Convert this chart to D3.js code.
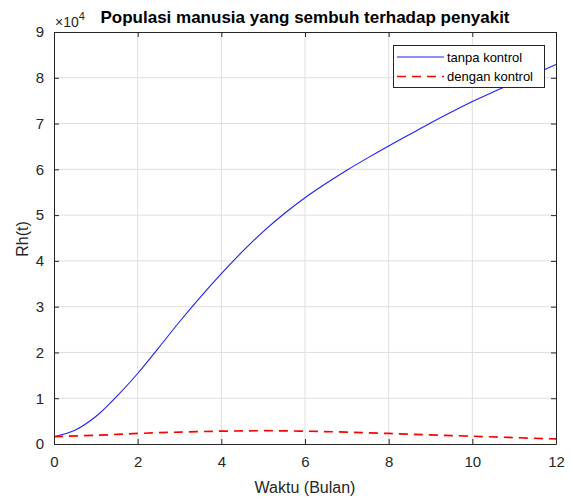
<!DOCTYPE html>
<html>
<head>
<meta charset="utf-8">
<script src="https://cdn.jsdelivr.net/npm/d3@7"></script>
<style>
  body { margin: 0; background: #fff; }
  svg text { font-family: "Liberation Sans", Arial, sans-serif; }
</style>
</head>
<body>
<div class="container"></div>
<script>
// waktu (bulan)
const timeBlue = [0, 0.5, 1, 1.5, 2, 2.5, 3, 3.5, 4, 4.5, 5, 5.5, 6, 6.5, 7, 7.5, 8, 8.5, 9, 9.5, 10, 10.5, 11, 11.5, 12];
// Rh(t) tanpa kontrol, x 10^4
const tanpaKontrol = [0.16, 0.3, 0.6, 1.04, 1.54, 2.1, 2.67, 3.21, 3.72, 4.2, 4.64, 5.03, 5.38, 5.69, 5.98, 6.25, 6.51, 6.76, 7.01, 7.25, 7.48, 7.69, 7.89, 8.09, 8.29];
const timeRed = [0, 1, 2, 3, 4, 5, 6, 7, 8, 9, 10, 11, 12];
// Rh(t) dengan kontrol, x 10^4
const denganKontrol = [0.16, 0.19, 0.23, 0.26, 0.28, 0.29, 0.28, 0.26, 0.23, 0.2, 0.17, 0.14, 0.11];
const xTicks = [0, 2, 4, 6, 8, 10, 12];
const yTicks = [0, 1, 2, 3, 4, 5, 6, 7, 8, 9];
const legendLabels = ["tanpa kontrol", "dengan kontrol"];

const w = 573;
const h = 497;
const pLeft = 54, pRight = 556, pTop = 32, pBottom = 444;
const axisColor = "#262626";

const svg = d3.select(".container")
  .append("svg")
  .attr("width", w)
  .attr("height", h);

const xScale = d3.scaleLinear().domain([0, 12]).range([pLeft, pRight]);
const yScale = d3.scaleLinear().domain([0, 9]).range([pBottom, pTop]);

// grid
svg.append("g")
  .selectAll("line")
  .data(xTicks.slice(1, -1))
  .enter()
  .append("line")
  .attr("x1", d => xScale(d)).attr("x2", d => xScale(d))
  .attr("y1", pTop).attr("y2", pBottom)
  .attr("stroke", "#dfdfdf").attr("stroke-width", 1);
svg.append("g")
  .selectAll("line")
  .data(yTicks.slice(1, -1))
  .enter()
  .append("line")
  .attr("y1", d => yScale(d)).attr("y2", d => yScale(d))
  .attr("x1", pLeft).attr("x2", pRight)
  .attr("stroke", "#dfdfdf").attr("stroke-width", 1);

// lines
const line = d3.line().curve(d3.curveCatmullRom);
svg.append("path")
  .attr("d", line(timeBlue.map((t, i) => [xScale(t), yScale(tanpaKontrol[i])])))
  .attr("fill", "none")
  .attr("stroke", "#1f1fff")
  .attr("stroke-width", 1.1);
svg.append("path")
  .attr("d", line(timeRed.map((t, i) => [xScale(t), yScale(denganKontrol[i])])))
  .attr("fill", "none")
  .attr("stroke", "#ff0000")
  .attr("stroke-width", 1.7)
  .attr("stroke-dasharray", "9,6");

// axes (box with inward ticks)
const xAxis = d3.axisBottom(xScale).tickValues(xTicks).tickSizeInner(-5).tickSizeOuter(0).tickPadding(12);
const yAxis = d3.axisLeft(yScale).tickValues(yTicks).tickSizeInner(-5).tickSizeOuter(0).tickPadding(10);
const xTop = d3.axisTop(xScale).tickValues(xTicks).tickSizeInner(-5).tickSizeOuter(0).tickFormat("");
const yRight = d3.axisRight(yScale).tickValues(yTicks).tickSizeInner(-5).tickSizeOuter(0).tickFormat("");

svg.append("g").attr("transform", `translate(0,${pBottom})`).call(xAxis);
svg.append("g").attr("transform", `translate(${pLeft},0)`).call(yAxis);
svg.append("g").attr("transform", `translate(0,${pTop})`).call(xTop);
svg.append("g").attr("transform", `translate(${pRight},0)`).call(yRight);

svg.selectAll(".domain").attr("stroke", axisColor);
svg.selectAll(".tick line").attr("stroke", axisColor);
svg.selectAll(".tick text")
  .attr("fill", axisColor)
  .style("font-size", "15px")
  .style("font-family", "Liberation Sans, Arial, sans-serif");

// exponent
const expo = svg.append("text")
  .attr("x", pLeft + 1)
  .attr("y", 27)
  .attr("fill", axisColor)
  .style("font-size", "14px");
expo.append("tspan").text("\u00d710");
expo.append("tspan").attr("dy", -7).style("font-size", "11px").text("4");

// title
svg.append("text")
  .attr("x", (pLeft + pRight) / 2)
  .attr("y", 23)
  .attr("text-anchor", "middle")
  .attr("font-weight", "bold")
  .style("font-size", "17px")
  .attr("fill", "#000")
  .text("Populasi manusia yang sembuh terhadap penyakit");

// axis labels
svg.append("text")
  .attr("x", (pLeft + pRight) / 2)
  .attr("y", 493)
  .attr("text-anchor", "middle")
  .attr("fill", axisColor)
  .style("font-size", "16px")
  .text("Waktu (Bulan)");
svg.append("text")
  .attr("transform", `translate(28,${(pTop + pBottom) / 2 + 1}) rotate(-90)`)
  .attr("text-anchor", "middle")
  .attr("fill", axisColor)
  .style("font-size", "16px")
  .text("Rh(t)");

// legend
const legend = svg.append("g");
legend.append("rect")
  .attr("x", 393.5).attr("y", 45.5)
  .attr("width", 151).attr("height", 42)
  .attr("fill", "#fff")
  .attr("stroke", axisColor);
const legendStyles = [
  { color: "#1f1fff", dash: null, width: 1.1 },
  { color: "#ff0000", dash: "9,6", width: 1.7 }
];
legendLabels.forEach((label, i) => {
  const y = 57 + i * 19.5;
  legend.append("line")
    .attr("x1", 397).attr("x2", 444)
    .attr("y1", y).attr("y2", y)
    .attr("stroke", legendStyles[i].color)
    .attr("stroke-width", legendStyles[i].width)
    .attr("stroke-dasharray", legendStyles[i].dash);
  legend.append("text")
    .attr("x", 447)
    .attr("y", y + 4.5)
    .attr("fill", "#000")
    .style("font-size", "13px")
    .text(label);
});
</script>
</body>
</html>
